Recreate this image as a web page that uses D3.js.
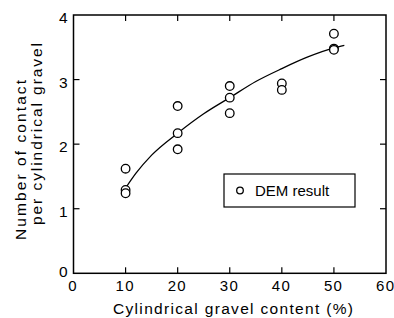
<!DOCTYPE html>
<html>
<head>
<meta charset="utf-8">
<script src="https://cdn.jsdelivr.net/npm/d3@7"></script>
<style>
  body { margin: 0; background: #fff; }
  text { font-family: "Liberation Sans", Arial, sans-serif; fill: #000; }
</style>
</head>
<body>
<script>
// DEM results
var contentX = [10, 10, 10, 20, 20, 20, 30, 30, 30, 40, 40, 50, 50, 50];
var contactY = [1.62, 1.29, 1.24, 2.59, 2.17, 1.92, 2.90, 2.72, 2.48, 2.94, 2.84, 3.71, 3.48, 3.46];

// fitted curve, sampled from the figure
var fitX = [10, 12, 15, 20, 25, 30, 35, 40, 45, 50, 52];
var fitY = [1.32, 1.55, 1.83, 2.17, 2.47, 2.72, 2.97, 3.17, 3.35, 3.49, 3.53];

var xTicks = [0, 10, 20, 30, 40, 50, 60];
var yTicks = [0, 1, 2, 3, 4];

var W = 394, H = 318;
var pL = 73.5, pR = 386, pT = 15, pB = 273.3;

var svg = d3.select("body").append("svg").attr("width", W).attr("height", H);

var x = d3.scaleLinear().domain([0, 60]).range([pL, pR]);
var y = d3.scaleLinear().domain([0, 4]).range([pB, pT]);

// frame
svg.append("rect")
  .attr("x", pL).attr("y", pT)
  .attr("width", pR - pL).attr("height", pB - pT)
  .attr("fill", "none").attr("stroke", "#000").attr("stroke-width", 1.5);

var tl = 6;
// ticks (inward, mirrored)
var g = svg.append("g").attr("stroke", "#000").attr("stroke-width", 1.2);
xTicks.slice(1, -1).forEach(function (t) {
  g.append("line").attr("x1", x(t)).attr("x2", x(t)).attr("y1", pB).attr("y2", pB - tl);
  g.append("line").attr("x1", x(t)).attr("x2", x(t)).attr("y1", pT).attr("y2", pT + tl);
});
yTicks.slice(1, -1).forEach(function (t) {
  g.append("line").attr("x1", pL).attr("x2", pL + tl).attr("y1", y(t)).attr("y2", y(t));
  g.append("line").attr("x1", pR).attr("x2", pR - tl).attr("y1", y(t)).attr("y2", y(t));
});

// tick labels
svg.selectAll(".xt").data(xTicks).enter().append("text")
  .attr("x", function (d) { return x(d) - 1; })
  .attr("y", 291)
  .attr("text-anchor", "middle")
  .attr("textLength", function (d) { return d == 0 ? 9 : 18; })
  .attr("lengthAdjust", "spacing")
  .style("font-size", "15px")
  .text(function (d) { return d; });

svg.selectAll(".yt").data(yTicks).enter().append("text")
  .attr("x", 67.5)
  .attr("y", function (d) { return d == 0 ? y(d) + 4 : y(d) + 8; })
  .attr("text-anchor", "end")
  .style("font-size", "15.5px")
  .text(function (d) { return d; });

// axis titles
svg.append("text")
  .attr("x", 113).attr("y", 314)
  .attr("textLength", 240).attr("lengthAdjust", "spacing")
  .style("font-size", "15.5px")
  .text("Cylindrical gravel content (%)");

svg.append("text")
  .attr("transform", "translate(26,240) rotate(-90)")
  .attr("textLength", 160).attr("lengthAdjust", "spacing")
  .style("font-size", "15.5px")
  .text("Number of contact");
svg.append("text")
  .attr("transform", "translate(42,225) rotate(-90)")
  .attr("textLength", 182).attr("lengthAdjust", "spacing")
  .style("font-size", "15.5px")
  .text("per cylindrical gravel");

// fitted curve
var line = d3.line()
  .x(function (d, i) { return x(fitX[i]); })
  .y(function (d, i) { return y(fitY[i]); })
  .curve(d3.curveMonotoneX);
svg.append("path").datum(fitX)
  .attr("d", line)
  .attr("fill", "none").attr("stroke", "#000").attr("stroke-width", 1.3);

// points
svg.selectAll(".pt").data(contentX).enter().append("circle")
  .attr("cx", function (d) { return x(d); })
  .attr("cy", function (d, i) { return y(contactY[i]); })
  .attr("r", 4.3)
  .attr("fill", "#fff").attr("stroke", "#000").attr("stroke-width", 1.3);

// legend
var lg = svg.append("g");
lg.append("rect").attr("x", 224).attr("y", 174).attr("width", 131).attr("height", 33)
  .attr("fill", "#fff").attr("stroke", "#000").attr("stroke-width", 1.2);
lg.append("circle").attr("cx", 240).attr("cy", 190.5).attr("r", 3.3)
  .attr("fill", "#fff").attr("stroke", "#000").attr("stroke-width", 1.3);
lg.append("text").attr("x", 255).attr("y", 196).style("font-size", "15px").text("DEM result");
</script>
</body>
</html>
